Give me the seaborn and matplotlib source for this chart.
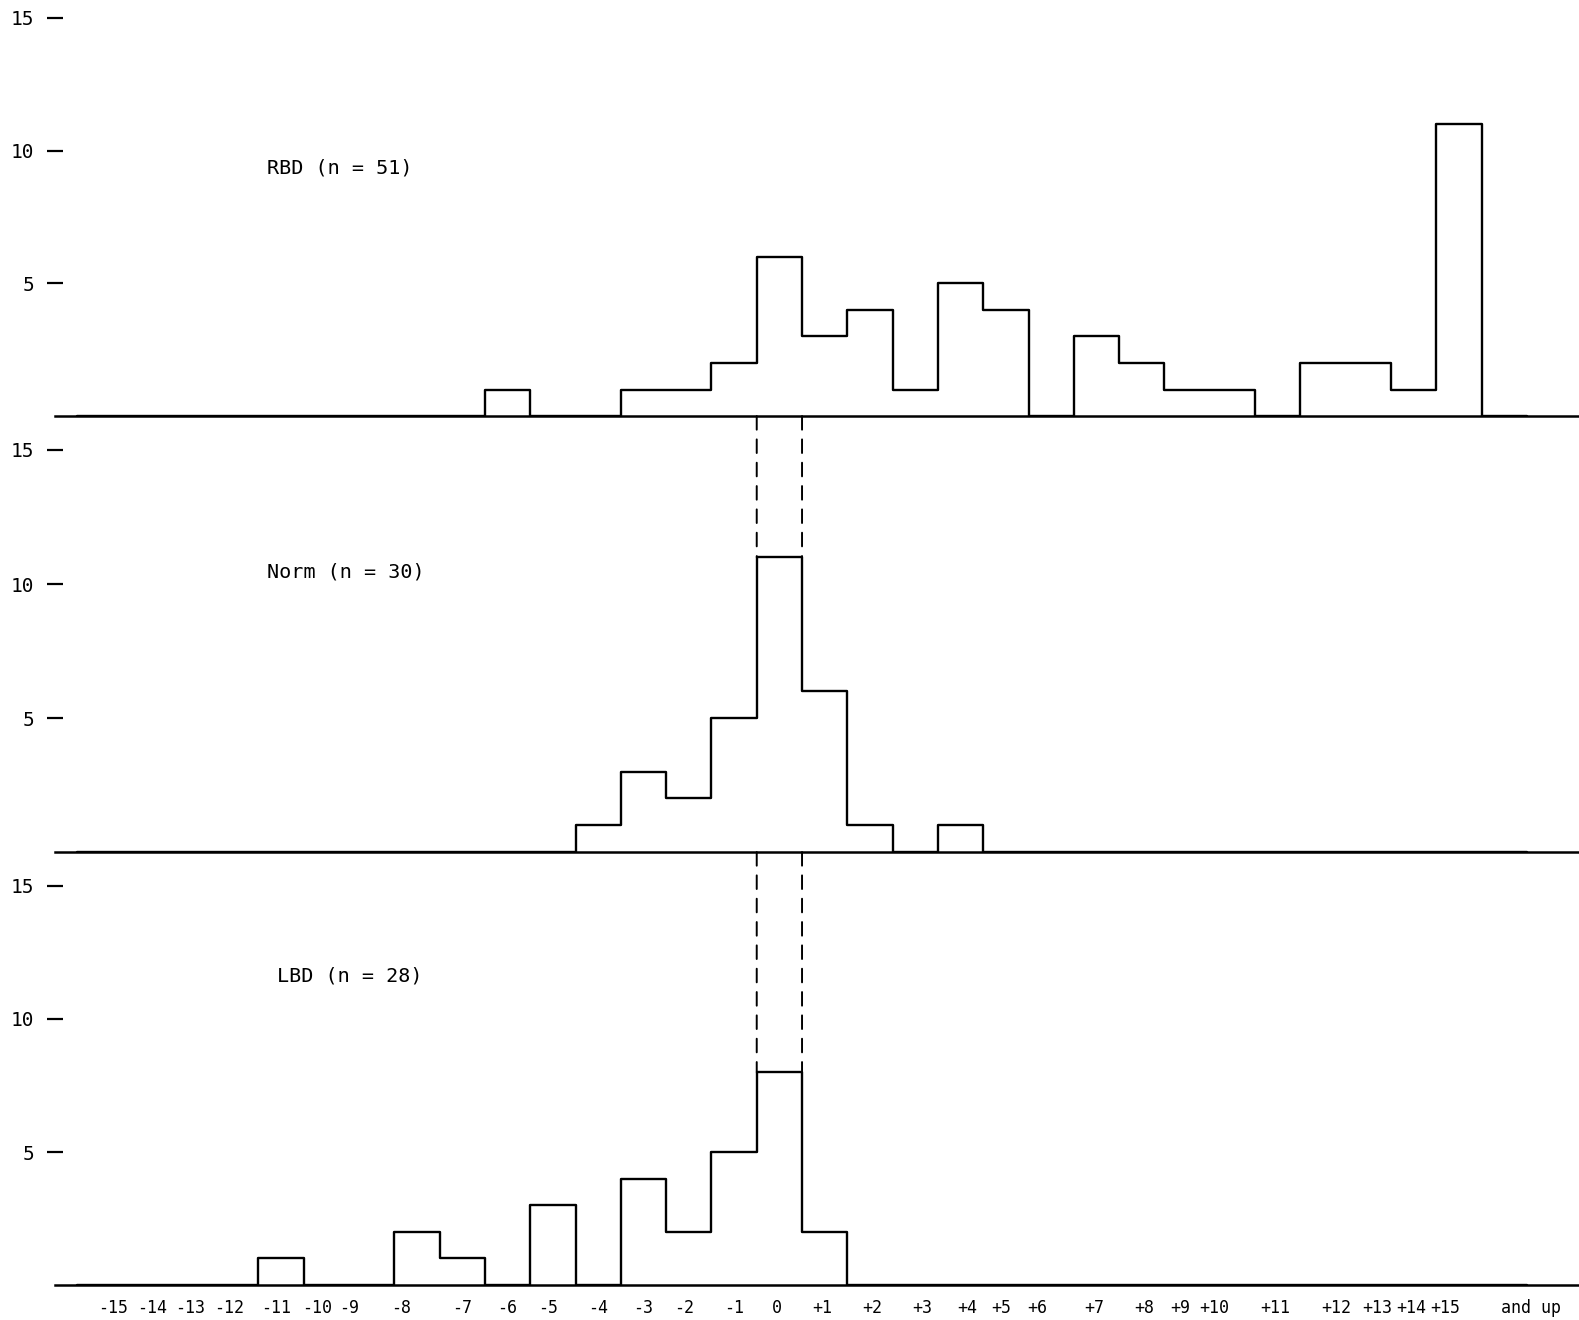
import numpy as np
import pandas as pd
import seaborn as sns
import matplotlib.pyplot as plt
from matplotlib.patches import ConnectionPatch

# difference score bins, -15 .. +15 (last one is "+15 and up"), plus an empty bin
# after it so the step outline closes back down to the baseline
bins = list(range(-15, 17))
rbd = [0, 0, 0, 0, 0, 0, 0, 0, 0, 1, 0, 0, 1, 1, 2, 6, 3, 4, 1, 5, 4, 0, 3, 2, 1, 1, 0, 2, 2, 1, 11, 0]
norm = [0] * 11 + [1, 3, 2, 5, 11, 6, 1, 0, 1] + [0] * 12
lbd = [0, 0, 0, 0, 1, 0, 0, 2, 1, 0, 3, 0, 4, 2, 5, 8, 2] + [0] * 15

groups = ["RBD (n = 51)", "Norm (n = 30)", "LBD (n = 28)"]

# typed labels under the bottom axis, placed roughly where the typewriter put them
xlabels = ["-15", "-14", "-13", "-12", "-11", "-10", "-9", "-8", "-7", "-6", "-5",
           "-4", "-3", "-2", "-1", "0", "+1", "+2", "+3", "+4", "+5", "+6", "+7",
           "+8", "+9", "+10", "+11", "+12", "+13", "+14", "+15", "and up"]
xlabel_pos = [-14.7, -13.85, -13.0, -12.15, -11.1, -10.2, -9.5, -8.35, -7.0, -6.0, -5.1,
              -4.0, -3.0, -2.1, -1.0, -0.05, 0.95, 2.05, 3.15, 4.15, 4.9, 5.7, 6.95,
              8.05, 8.85, 9.6, 10.95, 12.3, 13.2, 13.95, 14.7, 16.6]

sns.set_style("white")
plt.rcParams["font.family"] = ["DejaVu Sans Mono", "DejaVu Sans"]

fig = plt.figure(figsize=(15.79, 13.2), dpi=100)
boxes = [[0.0351, 0.6848, 0.9649, 0.3016],
         [0.0351, 0.3545, 0.9649, 0.3046],
         [0.0351, 0.0265, 0.9649, 0.3023]]
label_xy = [(-11.3, 9.35), (-11.3, 10.45), (-11.1, 11.6)]

axes = []
for box, counts, name, (tx, ty) in zip(boxes, [rbd, norm, lbd], groups, label_xy):
    ax = fig.add_axes(box)
    sns.histplot(x=bins, weights=counts, discrete=True, element="step", fill=False,
                 color="black", linewidth=1.7, ax=ax)
    ax.set_xlim(-15.98, 17.65)
    ax.set_ylim(0, 15)
    ax.set_ylabel("")
    ax.set_xlabel("")
    for s in ["top", "right", "left"]:
        ax.spines[s].set_visible(False)
    ax.spines["bottom"].set_linewidth(1.8)
    ax.spines["bottom"].set_color("black")
    ax.set_yticks([5, 10, 15])
    ax.tick_params(axis="y", left=True, direction="inout", length=12, width=1.6, pad=9,
                   labelsize=14, colors="black")
    ax.set_xticks([])
    ax.text(tx, ty, name, fontsize=14.5, ha="left", va="center", color="black")
    ax.patch.set_alpha(0)
    axes.append(ax)

bottom = axes[2]
bottom.set_xticks(xlabel_pos)
bottom.set_xticklabels(xlabels)
bottom.tick_params(axis="x", bottom=True, length=0, pad=10, labelsize=12, colors="black")

# dashed guides carrying the 0 bin down to the panel below
for upper, lower, counts in [(axes[0], axes[1], norm), (axes[1], axes[2], lbd)]:
    top0 = counts[bins.index(0)]
    for edge in (-0.5, 0.5):
        con = ConnectionPatch(xyA=(edge, 0), coordsA=upper.transData,
                              xyB=(edge, top0), coordsB=lower.transData,
                              color="black", linewidth=1.4, linestyle=(0, (7, 5)))
        fig.add_artist(con)

fig.savefig("out.png", dpi=100, facecolor="white")
